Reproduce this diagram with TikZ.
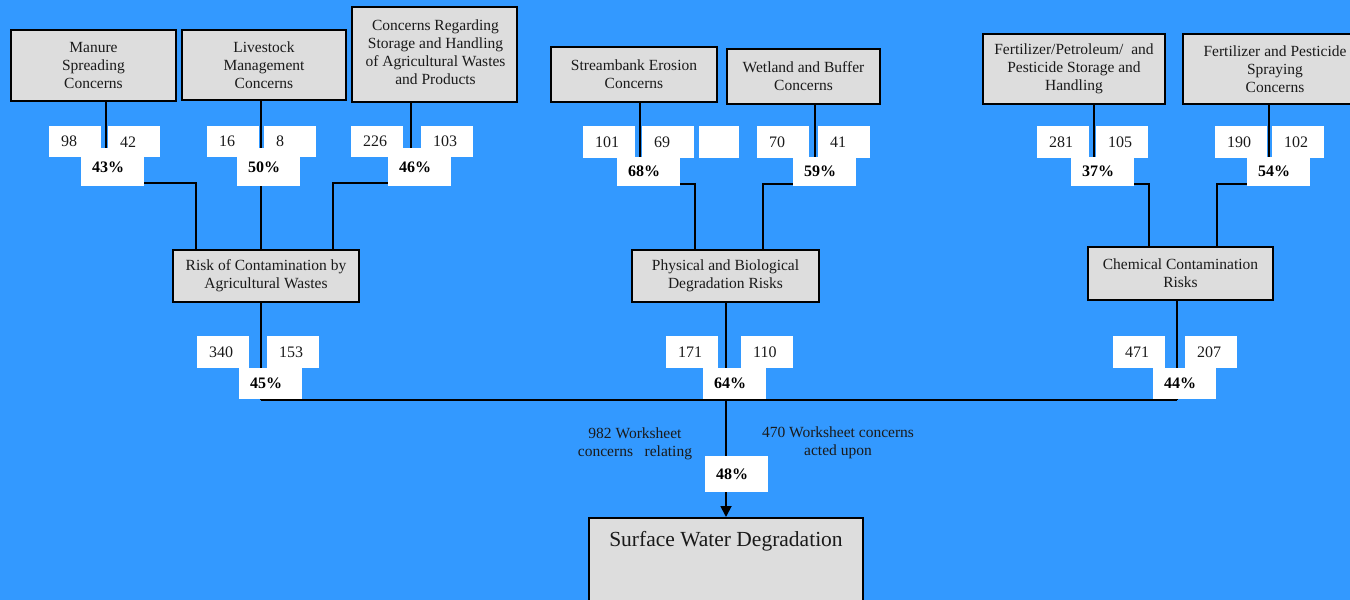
\documentclass[tikz,border=0pt]{standalone}
\usepackage{fontspec}
\setmainfont{Liberation Serif}
\usetikzlibrary{arrows.meta}
\definecolor{bgblue}{HTML}{3399FF}
\definecolor{boxgray}{HTML}{DDDDDD}
\definecolor{ink}{HTML}{1A1A1A}
\pgfdeclarelayer{back}
\pgfdeclarelayer{wires}
\pgfsetlayers{back,wires,main}
\begin{document}
\begin{tikzpicture}[x=1pt,y=-1pt,
  box/.style={draw=black, fill=boxgray, text=ink, line width=1.7pt, align=center, inner sep=0pt, font=\fontsize{15.5}{18}\selectfont},
  txt/.style={align=center, text=ink, inner sep=0pt, font=\fontsize{15.5}{18}\selectfont},
  nb/.style={fill=white, text=ink, anchor=north west, inner ysep=0pt, inner xsep=12pt, text width=28pt, minimum height=#1, align=left, font=\fontsize{16}{19}\selectfont},
  nb/.default=31pt,
  pb/.style={fill=white, anchor=north west, inner ysep=0pt, inner xsep=11pt, text width=41pt, minimum height=#1, align=left, font=\fontsize{16}{19}\selectfont\bfseries},
  ln/.style={line width=1.8pt}]
\clip (0,0) rectangle (1350,600);
\begin{pgfonlayer}{back}
\fill[bgblue] (0,0) rectangle (1350,600);
\end{pgfonlayer}

% top boxes
\node[box, minimum width=165pt, minimum height=71pt] (man) at (93.5,65.5) {Manure\\Spreading\\Concerns};
\node[box, minimum width=164pt, minimum height=70pt] (live) at (264,65) {Livestock\\Management\\Concerns};
\node[box, minimum width=165pt, minimum height=95pt] (stor) at (434.5,54.5) {};
\begin{scope}
\clip (352,7) rectangle (504,102);
\node[txt] (stort) at (435.5,52) {Concerns Regarding\\Storage and Handling\\of Agricultural Wastes\\and Products};
\end{scope}
\node[box, minimum width=166pt, minimum height=55pt] (strm) at (634,74.5) {Streambank Erosion\\Concerns};
\node[box, minimum width=153pt, minimum height=55pt] (wet) at (803.5,76.5) {Wetland and Buffer\\Concerns};
\node[box, minimum width=182pt, minimum height=70pt] (fpet) at (1074,69) {Fertilizer/Petroleum/~ and\\Pesticide Storage and\\Handling};
\node[box, minimum width=184pt, minimum height=70pt] (fspr) at (1275,69) {Fertilizer and Pesticide\\Spraying\\Concerns};

% middle boxes
\node[box, minimum width=186pt, minimum height=52pt] (risk) at (266,276) {Risk of Contamination by\\Agricultural Wastes};
\node[box, minimum width=187pt, minimum height=52pt] (phys) at (725.5,276) {Physical and Biological\\Degradation Risks};
\node[box, minimum width=185pt, minimum height=53pt] (chem) at (1180.5,273.5) {Chemical Contamination\\Risks};

% bottom box
\node[box, anchor=north, minimum width=274pt, text depth=70pt, inner ysep=14pt, font=\fontsize{21.5}{24}\selectfont] (surf) at (726,517) {Surface Water Degradation};

% number boxes, top level
\node[nb] (n1a) at (49,126) {98};
\node[nb] (n1b) at (108,126) {42};
\node[pb=38pt] (p1) at (81,148) {43\%};
\node[nb] (n2a) at (207,126) {16};
\node[nb] (n2b) at (264,126) {8};
\node[pb=38pt] (p2) at (237,148) {50\%};
\node[nb] (n3a) at (351,126) {226};
\node[nb] (n3b) at (421,126) {103};
\node[pb=38pt] (p3) at (388,148) {46\%};
\node[nb=32pt] (n4a) at (583,126) {101};
\node[nb=32pt] (n4b) at (642,126) {69};
\node[fill=white, anchor=north west, inner sep=0pt, minimum width=40pt, minimum height=32pt] (n4c) at (699,126) {};
\node[pb=29pt] (p4) at (617,157) {68\%};
\node[nb=32pt] (n5a) at (757,126) {70};
\node[nb=32pt] (n5b) at (818,126) {41};
\node[pb=29pt] (p5) at (793,157) {59\%};
\node[nb=32pt] (n6a) at (1037,126) {281};
\node[nb=32pt] (n6b) at (1096,126) {105};
\node[pb=29pt] (p6) at (1071,157) {37\%};
\node[nb=32pt] (n7a) at (1215,126) {190};
\node[nb=32pt] (n7b) at (1272,126) {102};
\node[pb=29pt] (p7) at (1247,157) {54\%};

% number boxes, second level
\node[nb=32pt] (m1a) at (197,336) {340};
\node[nb=32pt] (m1b) at (267,336) {153};
\node[pb=31pt] (q1) at (239,368) {45\%};
\node[nb=32pt] (m2a) at (666,336) {171};
\node[nb=32pt] (m2b) at (741,336) {110};
\node[pb=31pt] (q2) at (703,368) {64\%};
\node[nb=32pt] (m3a) at (1113,336) {471};
\node[nb=32pt] (m3b) at (1185,336) {207};
\node[pb=31pt] (q3) at (1153,368) {44\%};
\node[pb=36pt] (q4) at (705,456) {48\%};

% labels
\node[txt] (lab1) at (635,444) {982 Worksheet\\concerns~~ relating};
\node[txt] (lab2) at (838,443) {470 Worksheet concerns\\acted upon};

% coordinates for connector columns
\coordinate (c1) at (106,0);
\coordinate (c2) at (261,0);
\coordinate (c3) at (411,0);
\coordinate (c4) at (640,0);
\coordinate (c5) at (815,0);
\coordinate (c6) at (1094,0);
\coordinate (c7) at (1269,0);
\coordinate (j1) at (196,183);
\coordinate (j3) at (333,183);
\coordinate (j4) at (695,184);
\coordinate (j5) at (763,184);
\coordinate (j6) at (1149,184);
\coordinate (j7) at (1217,184);
\coordinate (r1) at (261,0);
\coordinate (r2) at (726,0);
\coordinate (r3) at (1177,0);
\coordinate (hb) at (0,400);

\begin{pgfonlayer}{wires}
\draw[ln] (c1 |- man.south) -- (c1 |- p1.north);
\draw[ln] (c2 |- live.south) -- (c2 |- risk.north);
\draw[ln] (c3 |- stor.south) -- (c3 |- p3.north);
\draw[ln] (c4 |- strm.south) -- (c4 |- p4.north);
\draw[ln] (c5 |- wet.south) -- (c5 |- p5.north);
\draw[ln] (c6 |- fpet.south) -- (c6 |- p6.north);
\draw[ln] (c7 |- fspr.south) -- (c7 |- p7.north);
\draw[ln] (p1.east |- j1) -- (j1) -- (j1 |- risk.north);
\draw[ln] (p3.west |- j3) -- (j3) -- (j3 |- risk.north);
\draw[ln] (p4.east |- j4) -- (j4) -- (j4 |- phys.north);
\draw[ln] (p5.west |- j5) -- (j5) -- (j5 |- phys.north);
\draw[ln] (p6.east |- j6) -- (j6) -- (j6 |- chem.north);
\draw[ln] (p7.west |- j7) -- (j7) -- (j7 |- chem.north);
\draw[ln] (r1 |- risk.south) -- (r1 |- hb);
\draw[ln] (r2 |- phys.south) -- (r2 |- hb);
\draw[ln] (r3 |- chem.south) -- (r3 |- hb);
\draw[ln] (r1 |- hb) -- (r3 |- hb);
\draw[ln] (r2 |- hb) -- (r2 |- q4.north);
\draw[ln, -{Triangle[width=11pt,length=11pt]}] (r2 |- q4.south) -- (r2 |- surf.north);
\end{pgfonlayer}
\end{tikzpicture}
\end{document}
